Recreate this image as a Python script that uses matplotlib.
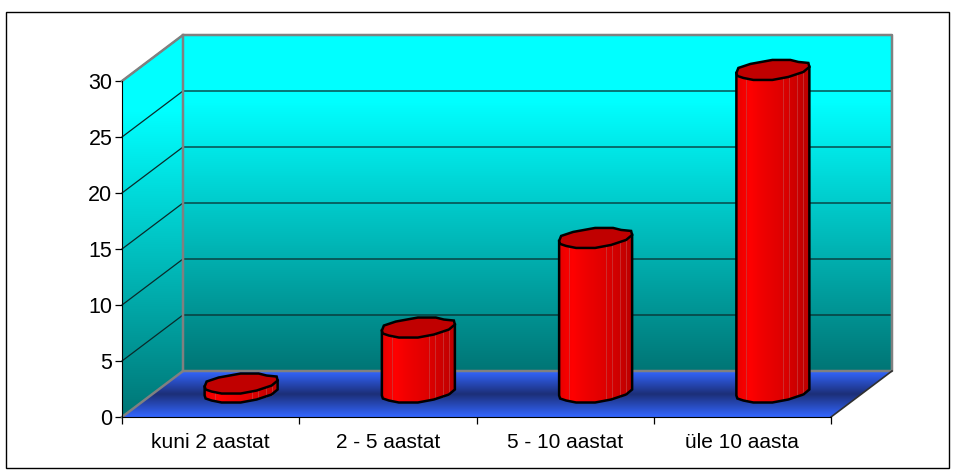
import numpy as np
import matplotlib
matplotlib.use("Agg")
import matplotlib.pyplot as plt
from matplotlib.colors import LinearSegmentedColormap
from matplotlib.patches import Polygon, Rectangle

categories = ["kuni 2 aastat", "2 - 5 aastat", "5 - 10 aastat", "üle 10 aasta"]
values = [0.8, 5.8, 13.8, 28.8]
y_ticks = [0, 5, 10, 15, 20, 25, 30]

plt.rcParams["font.family"] = ["Liberation Sans", "DejaVu Sans"]

fig = plt.figure(figsize=(9.56, 4.76), dpi=100)
fig.patches.append(Rectangle((6 / 956, 1 - 468 / 476), 943 / 956, 456 / 476, transform=fig.transFigure,
                             fc="white", ec="black", lw=1, zorder=-1))

# axes is the front plane of the fake 3d box
ax = fig.add_axes([122 / 956, 59 / 476, 709 / 956, 336 / 476])
ax.patch.set_visible(False)

n = len(categories)
ymax = y_ticks[-1]
px = n / 709
py = ymax / 336
depth_x = 61 * px
depth_y = 46 * py

wall_cmap = LinearSegmentedColormap.from_list("wall", [(0, (0, 1, 1)), (0.2, (0, 1, 1)), (1, (0, 0.46, 0.46))])
floor_cmap = LinearSegmentedColormap.from_list("floor", [(0, "#3366ff"), (0.5, "#1c2f78"), (1, "#3366ff")])
bar_cmap = LinearSegmentedColormap.from_list("bar", [(0, "#e60000"), (0.18, "#ff0000"), (0.35, "#f00000"),
                                                     (0.65, "#dd0000"), (1, "#bc0000")])


def gradient(poly, extent, cmap, vertical=True):
    g = np.linspace(0, 1, 256)
    g = g.reshape(-1, 1) if vertical else g.reshape(1, -1)
    im = ax.imshow(g, extent=extent, origin="upper", cmap=cmap, aspect="auto", zorder=1, interpolation="bilinear")
    im.set_clip_box(fig.bbox)
    im.set_clip_path(Polygon(poly, closed=True, transform=ax.transData))
    return im


wall_top = ymax + depth_y
back_wall = [(depth_x, depth_y), (n + depth_x, depth_y), (n + depth_x, wall_top), (depth_x, wall_top)]
side_wall = [(0, 0), (depth_x, depth_y), (depth_x, wall_top), (0, ymax)]
floor = [(0, 0), (n, 0), (n + depth_x, depth_y), (depth_x, depth_y)]
gradient(back_wall, (0, n + depth_x, depth_y, wall_top), wall_cmap)
gradient(side_wall, (0, depth_x, 0, wall_top), wall_cmap)
gradient(floor, (0, n + depth_x, 0, depth_y), floor_cmap)

# grid on back wall and side wall
for t in y_ticks[1:]:
    ax.plot([0, depth_x, n + depth_x], [t, t + depth_y, t + depth_y], color="#0a2a2a", lw=0.9, zorder=2, clip_on=False)

# grey box edges
grey = "#808080"
ax.plot([0, depth_x, depth_x], [0, depth_y, wall_top], color=grey, lw=1.8, zorder=3, clip_on=False)
ax.plot([0, depth_x, n + depth_x, n + depth_x, depth_x], [ymax, wall_top, wall_top, depth_y, depth_y],
        color=grey, lw=1.8, zorder=3, clip_on=False)
ax.plot([n, n + depth_x], [0, depth_y], color="#303030", lw=1.2, zorder=3, clip_on=False)

# outline of the bar top, in pixels from bar left / front of the top
top_x = np.array([0, 2, 14, 36, 54, 62, 72, 73, 67, 52, 36, 17, 7, 1])
top_y = np.array([7, 12, 16, 20, 20, 18, 17, 13, 8, 3, 0, 0, 2, 4])
front = [0, 13, 12, 11, 10, 9, 8, 7]
front_x = top_x[[13, 12, 11, 10, 9, 8, 7]]
front_y = top_y[[13, 12, 11, 10, 9, 8, 7]]
stripes = [10, 47, 53, 61, 67]

for i, v in enumerate(values):
    left = i + 0.5 + depth_x / 2 - 36.5 * px
    base = depth_y / 2 - 8.5 * py
    xs = left + top_x * px
    ys_top = base + v + top_y * py
    body = list(zip(xs[front], ys_top[front] - v))
    body = body + [(xs[7], ys_top[7]), (xs[0], ys_top[0])]
    gradient(body, (left, left + 73 * px, 0, wall_top), bar_cmap, vertical=False).set_zorder(4)
    for s in stripes:
        edge = base + np.interp(s, front_x, front_y) * py
        ax.plot([left + s * px, left + s * px], [edge, edge + v], color="#c84040", lw=0.5, zorder=4.2, clip_on=False)
    ax.add_patch(Polygon(body, closed=True, fc="none", ec="black", lw=1.8, zorder=5, clip_on=False))
    ax.add_patch(Polygon(list(zip(xs, ys_top)), closed=True, fc="#c00000", ec="black", lw=1.8, zorder=6, clip_on=False))

ax.set_xlim(0, n)
ax.set_ylim(0, ymax)
ax.set_yticks(y_ticks)
ax.set_xticks(range(n + 1))
ax.set_xticklabels([])
ax.set_xticks(np.arange(n) + 0.5, categories, minor=True)
ax.tick_params(axis="both", which="major", length=5, width=0.9, color="black", labelsize=15.5, pad=2)
ax.tick_params(axis="x", which="minor", length=0, labelsize=15, pad=11.5)
ax.spines["top"].set_visible(False)
ax.spines["right"].set_visible(False)
for s in ["left", "bottom"]:
    ax.spines[s].set_zorder(7)

plt.savefig("out.png", dpi=100)
